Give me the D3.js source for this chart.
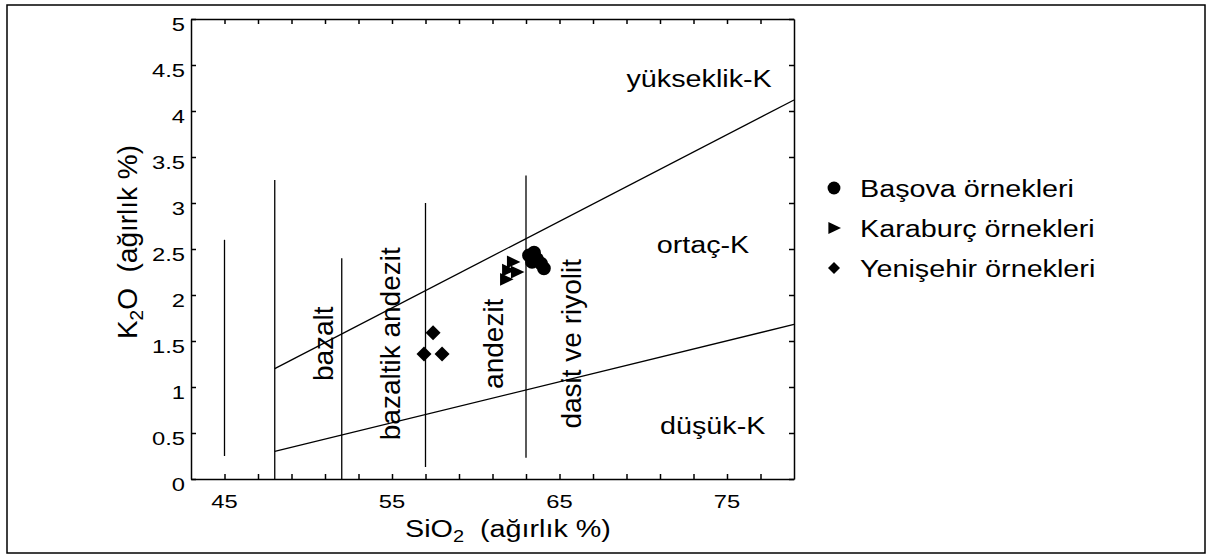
<!DOCTYPE html>
<html>
<head>
<meta charset="utf-8">
<script src="https://cdn.jsdelivr.net/npm/d3@7"></script>
<style>
  body { margin: 0; background: #fff; }
  svg { display: block; }
  text { font-family: "Liberation Sans", Arial, Helvetica, sans-serif; fill: #000; }
  .axis path, .axis line { stroke: #000; stroke-width: 1.5; }
</style>
</head>
<body>
<div id="chart"></div>
<script>
// Tick values
var xLabelTicks = [45, 55, 65, 75];
var xMinorTicks = [45, 47, 49, 51, 53, 55, 57, 59, 61, 63, 65, 67, 69, 71, 73, 75, 77];
var yTicks = [0, 0.5, 1, 1.5, 2, 2.5, 3, 3.5, 4, 4.5, 5];

// Rock field boundaries (vertical lines): SiO2 and K2O range
var fieldSiO2 = [45, 48, 52, 57, 63];
var fieldK2OLow = [0.25, 0, 0, 0.13, 0.23];
var fieldK2OHigh = [2.6, 3.25, 2.4, 3.0, 3.3];

// Series boundaries (oblique lines)
var highKSiO2 = [48, 79], highKK2O = [1.2, 4.12];
var lowKSiO2 = [48, 79], lowKK2O = [0.3, 1.68];

// Field names (rotated)
var fieldNames = ['bazalt', 'bazaltik andezit', 'andezit', 'dasit ve riyolit'];
var fieldNameSiO2 = [51.5, 55.5, 61.6, 66.3];
var fieldNameK2O = [1.47, 1.47, 1.47, 1.47];

// Series names
var seriesNames = ['yükseklik-K', 'ortaç-K', 'düşük-K'];
var seriesNameSiO2 = [69.0, 70.8, 71.0];
var seriesNameK2O = [4.26, 2.46, 0.49];

// Samples
var basovaSiO2 = [63.18, 63.48, 63.66, 63.90, 64.07, 63.36];
var basovaK2O = [2.43, 2.46, 2.39, 2.34, 2.29, 2.36];
var karaburcSiO2 = [62.22, 61.93, 61.81, 62.46];
var karaburcK2O = [2.36, 2.27, 2.17, 2.25];
var yenisehirSiO2 = [57.45, 56.91, 57.99];
var yenisehirK2O = [1.59, 1.36, 1.36];

var legendNames = ['Başova örnekleri', 'Karaburç örnekleri', 'Yenişehir örnekleri'];

var width = 1214, height = 555;
var stretch = 1.25; // horizontal text is a little wide in the scan

var svg = d3.select('#chart').append('svg')
    .attr('width', width)
    .attr('height', height);

// outer frame
svg.append('rect')
    .attr('x', 7).attr('y', 5)
    .attr('width', 1198).attr('height', 548)
    .attr('fill', 'none')
    .attr('stroke', '#000')
    .attr('stroke-width', 1.5);

var x = d3.scaleLinear().domain([43, 79]).range([191, 794]);
var y = d3.scaleLinear().domain([0, 5]).range([479, 19]);

// axes, ticks pointing inwards
svg.append('g').attr('class', 'axis')
    .attr('transform', 'translate(0,' + y(0) + ')')
    .call(d3.axisBottom(x).tickValues(xMinorTicks).tickSizeInner(-5).tickSizeOuter(0).tickFormat(''));
svg.append('g').attr('class', 'axis')
    .attr('transform', 'translate(0,' + y(5) + ')')
    .call(d3.axisTop(x).tickValues(xMinorTicks).tickSizeInner(-5).tickSizeOuter(0).tickFormat(''));
svg.append('g').attr('class', 'axis')
    .attr('transform', 'translate(' + x(43) + ',0)')
    .call(d3.axisLeft(y).tickValues(yTicks).tickSizeInner(-5).tickSizeOuter(0).tickFormat(''));
svg.append('g').attr('class', 'axis')
    .attr('transform', 'translate(' + x(79) + ',0)')
    .call(d3.axisRight(y).tickValues(yTicks).tickSizeInner(-5).tickSizeOuter(0).tickFormat(''));

// tick labels
svg.selectAll('.xlab')
    .data(xLabelTicks)
    .enter().append('text')
    .attr('class', 'xlab')
    .attr('text-anchor', 'middle')
    .attr('font-size', 19)
    .attr('transform', function(d) {
        return 'translate(' + x(d) + ',' + (y(0) + 29) + ') scale(' + stretch + ',1)';
    })
    .text(function(d) { return d; });

svg.selectAll('.ylab')
    .data(yTicks)
    .enter().append('text')
    .attr('class', 'ylab')
    .attr('text-anchor', 'end')
    .attr('font-size', 19)
    .attr('transform', function(d) {
        return 'translate(185,' + (y(d) + 12) + ') scale(' + stretch + ',1)';
    })
    .text(function(d) { return d; });

// axis titles
var xt = svg.append('text')
    .attr('font-size', 23)
    .attr('transform', 'translate(405,537) scale(' + stretch + ',1)');
xt.append('tspan').text('SiO');
xt.append('tspan').attr('font-size', 16).attr('dy', 5).text('2');
xt.append('tspan').attr('dy', -5).text('\u00a0\u00a0(ağırlık %)');

var yt = svg.append('text')
    .attr('font-size', 28)
    .attr('text-anchor', 'middle')
    .attr('transform', 'translate(137,242) rotate(-90)');
yt.append('tspan').text('K');
yt.append('tspan').attr('font-size', 19).attr('dy', 6).text('2');
yt.append('tspan').attr('dy', -6).text('O\u00a0\u00a0(ağırlık %)');

// field boundaries
var line = d3.line()
    .x(function(d) { return x(d[0]); })
    .y(function(d) { return y(d[1]); });

fieldSiO2.forEach(function(s, i) {
    svg.append('path')
        .attr('d', line([[s, fieldK2OLow[i]], [s, fieldK2OHigh[i]]]))
        .attr('stroke', '#000').attr('stroke-width', 1.3).attr('fill', 'none');
});

[[highKSiO2, highKK2O], [lowKSiO2, lowKK2O]].forEach(function(b) {
    svg.append('path')
        .attr('d', line(d3.zip(b[0], b[1])))
        .attr('stroke', '#000').attr('stroke-width', 1.3).attr('fill', 'none');
});

// field names
svg.selectAll('.field')
    .data(fieldNames)
    .enter().append('text')
    .attr('class', 'field')
    .attr('font-size', 28)
    .attr('text-anchor', 'middle')
    .attr('transform', function(d, i) {
        return 'translate(' + x(fieldNameSiO2[i]) + ',' + y(fieldNameK2O[i]) + ') rotate(-90)';
    })
    .text(function(d) { return d; });

// series names
svg.selectAll('.series')
    .data(seriesNames)
    .enter().append('text')
    .attr('class', 'series')
    .attr('font-size', 23)
    .attr('transform', function(d, i) {
        return 'translate(' + x(seriesNameSiO2[i]) + ',' + y(seriesNameK2O[i]) + ') scale(' + stretch + ',1)';
    })
    .text(function(d) { return d; });

// symbols
var circleSym = d3.symbol().type(d3.symbolCircle).size(150);
var diamondSym = function(r) { return 'M0,' + (-r) + 'L' + r + ',0L0,' + r + 'L' + (-r) + ',0Z'; };
var triangleSym = function(r) { return 'M' + r + ',0L' + (-r * 0.8) + ',' + (-r * 0.85) + 'L' + (-r * 0.8) + ',' + (r * 0.85) + 'Z'; };

svg.selectAll('.basova')
    .data(d3.zip(basovaSiO2, basovaK2O))
    .enter().append('path')
    .attr('class', 'basova')
    .attr('d', circleSym)
    .attr('transform', function(d) { return 'translate(' + x(d[0]) + ',' + y(d[1]) + ')'; })
    .attr('fill', '#000');

svg.selectAll('.karaburc')
    .data(d3.zip(karaburcSiO2, karaburcK2O))
    .enter().append('path')
    .attr('class', 'karaburc')
    .attr('d', triangleSym(7.5))
    .attr('transform', function(d) { return 'translate(' + x(d[0]) + ',' + y(d[1]) + ')'; })
    .attr('fill', '#000');

svg.selectAll('.yenisehir')
    .data(d3.zip(yenisehirSiO2, yenisehirK2O))
    .enter().append('path')
    .attr('class', 'yenisehir')
    .attr('d', diamondSym(7.5))
    .attr('transform', function(d) { return 'translate(' + x(d[0]) + ',' + y(d[1]) + ')'; })
    .attr('fill', '#000');

// legend
var legend = svg.append('g').attr('transform', 'translate(834,0)');
var legendSyms = [d3.symbol().type(d3.symbolCircle).size(130)(), triangleSym(7), diamondSym(6)];
var legendY = [188, 228, 268];

legendNames.forEach(function(name, i) {
    legend.append('path')
        .attr('d', legendSyms[i])
        .attr('transform', 'translate(0,' + legendY[i] + ')')
        .attr('fill', '#000');
    legend.append('text')
        .attr('font-size', 23)
        .attr('transform', 'translate(26,' + (legendY[i] + 9) + ') scale(' + stretch + ',1)')
        .text(name);
});
</script>
</body>
</html>
